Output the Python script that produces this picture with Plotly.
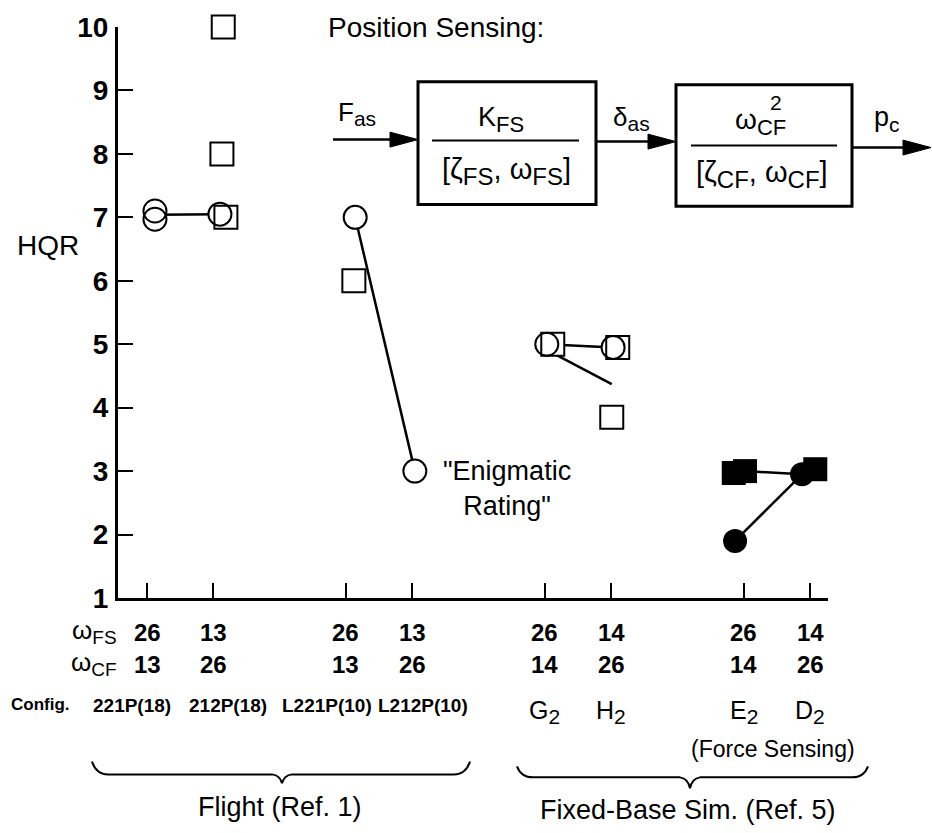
import plotly.graph_objects as go

# ---- configurations along the horizontal axis ----
config_pos = [1, 2, 4, 5, 7, 8, 10, 11]
flight_names = ["221P(18)", "212P(18)", "L221P(10)", "L212P(10)"]
sim_names = ["G", "H", "E", "D"]
omega_fs = [26, 13, 26, 13, 26, 14, 26, 14]
omega_cf = [13, 26, 13, 26, 14, 26, 14, 26]
flight_name_shift = [-0.23, 0.22, -0.28, 0.17]

# ---- HQR ratings, position sensing (open symbols) ----
pos_circle_x = [1.12, 1.12, 2.10, 4.14, 5.04, 7.03, 8.03]
pos_circle_y = [7.10, 6.97, 7.05, 7.00, 3.00, 5.00, 4.95]
pos_square_x = [2.15, 2.13, 2.19, 4.12, 7.12, 8.10, 8.01]
pos_square_y = [10.0, 8.0, 7.0, 6.0, 5.0, 4.95, 3.85]

# ---- HQR ratings, force sensing (filled symbols) ----
force_circle_x = [9.87, 10.88]
force_circle_y = [1.90, 2.95]
force_square_x = [9.85, 10.02, 11.08]
force_square_y = [2.97, 3.00, 3.03]

# ---- connecting segments (None breaks the line) ----
link_x = [1.12, 2.10, None, 4.14, 5.04, None, 7.03, 8.03, None,
          7.05, 8.01, None, 10.02, 10.88, None, 9.87, 10.88]
link_y = [7.04, 7.05, None, 7.00, 3.00, None, 5.00, 4.95, None,
          4.90, 4.37, None, 3.00, 2.95, None, 1.90, 2.95]

FONT = "Liberation Sans, Arial, Helvetica, sans-serif"
W, H = 932, 833
L, R, T, B = 118, 828, 25, 598
MSIZE = 23


def fx(px):
    return (px - L) / (R - L)


def fy(py):
    return (B - py) / (B - T)


def sub(s, size):
    return f"<sub><span style='font-size:{size}px'>{s}</span></sub>"


fig = go.Figure()

fig.add_trace(go.Scatter(x=link_x, y=link_y, mode="lines",
                         line=dict(color="black", width=2.5),
                         hoverinfo="skip", showlegend=False, cliponaxis=False))

# white discs/squares so connecting lines stop at the open symbol outlines
fig.add_trace(go.Scatter(x=pos_circle_x, y=pos_circle_y, mode="markers",
                         marker=dict(symbol="circle", size=MSIZE, color="white",
                                     line=dict(width=0)),
                         hoverinfo="skip", showlegend=False, cliponaxis=False))
fig.add_trace(go.Scatter(x=pos_square_x, y=pos_square_y, mode="markers",
                         marker=dict(symbol="square", size=MSIZE, color="white",
                                     line=dict(width=0)),
                         hoverinfo="skip", showlegend=False, cliponaxis=False))

fig.add_trace(go.Scatter(x=pos_circle_x, y=pos_circle_y, mode="markers",
                         marker=dict(symbol="circle-open", size=MSIZE, color="black",
                                     line=dict(width=2, color="black")),
                         showlegend=False, cliponaxis=False))
fig.add_trace(go.Scatter(x=pos_square_x, y=pos_square_y, mode="markers",
                         marker=dict(symbol="square-open", size=MSIZE, color="black",
                                     line=dict(width=2, color="black")),
                         showlegend=False, cliponaxis=False))
fig.add_trace(go.Scatter(x=force_square_x, y=force_square_y, mode="markers",
                         marker=dict(symbol="square", size=MSIZE + 1, color="black",
                                     line=dict(width=0)),
                         showlegend=False, cliponaxis=False))
fig.add_trace(go.Scatter(x=force_circle_x, y=force_circle_y, mode="markers",
                         marker=dict(symbol="circle", size=MSIZE + 1, color="black",
                                     line=dict(width=0)),
                         showlegend=False, cliponaxis=False))

annotations = []


def note(text, x, y, size, bold=False, xanchor="center", yanchor="middle",
         xref="paper", align="center"):
    annotations.append(dict(
        text=text, x=x, y=y, xref=xref, yref="paper", showarrow=False,
        xanchor=xanchor, yanchor=yanchor, align=align,
        font=dict(family=FONT, size=size, color="black",
                  weight="bold" if bold else "normal")))


# axis title
note("HQR", fx(48), fy(244), 28)

# block diagram of the position-sensing feel system
note("Position Sensing:", fx(326), fy(26), 28, xanchor="left")
note("F" + sub("as", 21), fx(336), fy(112), 26, xanchor="left")
note("K" + sub("FS", 22), fx(501), fy(118), 27)
note("[ζ" + sub("FS", 24) + ", ω" + sub("FS", 24) + "]", fx(506), fy(170), 29)
note("δ" + sub("as", 21), fx(631), fy(117), 26)
note("ω" + sub("CF", 22), fx(760), fy(120), 28)
note("2", fx(776), fy(101), 21)
note("[ζ" + sub("CF", 24) + ", ω" + sub("CF", 24) + "]", fx(762), fy(173), 29)
note("p" + sub("c", 21), fx(887), fy(117), 27)

# callout
note("\"Enigmatic<br>Rating\"", fx(507), fy(488), 27)

# configuration rows under the axis
note("ω" + sub("FS", 19), fx(94), fy(632), 26)
note("ω" + sub("CF", 19), fx(94), fy(664), 26)
note("Config.", fx(9), fy(705), 17, bold=True, xanchor="left")
for i, xv in enumerate(config_pos):
    note(str(omega_fs[i]), xv, fy(633), 24, bold=True, xref="x")
    note(str(omega_cf[i]), xv, fy(665), 24, bold=True, xref="x")
for i, name in enumerate(flight_names):
    note(name, config_pos[i] + flight_name_shift[i], fy(706), 19, bold=True, xref="x")
for i, name in enumerate(sim_names):
    note(name + sub("2", 21), config_pos[4 + i], fy(712), 25, xref="x")
note("(Force Sensing)", fx(773), fy(750), 23)
note("Flight (Ref. 1)", fx(280), fy(808), 27)
note("Fixed-Base Sim. (Ref. 5)", fx(688), fy(811), 27)

shapes = []


def pathstr(cmds):
    out = []
    for c in cmds:
        op, pts = c[0], c[1:]
        out.append(op + " " + " ".join(f"{fx(p[0]):.5f},{fy(p[1]):.5f}" for p in pts))
    return " ".join(out)


def line(x0, y0, x1, y1, w=2.5):
    shapes.append(dict(type="line", xref="paper", yref="paper",
                       x0=fx(x0), y0=fy(y0), x1=fx(x1), y1=fy(y1),
                       line=dict(color="black", width=w)))


def arrow(x0, x1, y):
    line(x0, y, x1 - 20, y)
    shapes.append(dict(type="path", xref="paper", yref="paper",
                       path=pathstr([("M", (x1, y)), ("L", (x1 - 28, y - 7.5)),
                                     ("L", (x1 - 28, y + 7.5))]) + " Z",
                       fillcolor="black", line=dict(color="black", width=1)))


def box(x0, y0, x1, y1):
    shapes.append(dict(type="rect", xref="paper", yref="paper",
                       x0=fx(x0), y0=fy(y0), x1=fx(x1), y1=fy(y1),
                       line=dict(color="black", width=3)))


arrow(333, 418, 138)
box(418, 80, 596, 203)
line(432, 139, 579, 139, 2)
arrow(596, 676, 140)
box(676, 83, 852, 205)
line(691, 144, 837, 144, 2)
arrow(852, 931, 146)


def brace(x0, x1, xm, ytop, ymid, ytip):
    p = pathstr([("M", (x0, ytop)), ("Q", (x0 + 4, ymid), (x0 + 16, ymid)),
                 ("L", (xm - 10, ymid)), ("Q", (xm - 2, ymid + 1), (xm, ytip)),
                 ("Q", (xm + 2, ymid + 1), (xm + 10, ymid)),
                 ("L", (x1 - 16, ymid)), ("Q", (x1 - 4, ymid), (x1, ytop))])
    shapes.append(dict(type="path", xref="paper", yref="paper", path=p,
                       line=dict(color="black", width=2)))


brace(92, 470, 282, 762, 775, 784)
brace(517, 868, 690, 767, 778, 789)

fig.update_layout(
    width=W, height=H, autosize=False,
    margin=dict(l=L, r=W - R, t=T, b=H - B, pad=0),
    paper_bgcolor="white", plot_bgcolor="white",
    font=dict(family=FONT, color="black"),
    annotations=annotations, shapes=shapes, showlegend=False,
    xaxis=dict(range=[1 - 29 / 66.3, 1 + 681 / 66.3], showgrid=False, zeroline=False,
               showline=True, linewidth=3, linecolor="black",
               ticks="inside", tickvals=config_pos, ticklen=15, tickwidth=2,
               tickcolor="black", showticklabels=False, fixedrange=True),
    yaxis=dict(range=[1, 10], showgrid=False, zeroline=False,
               showline=True, linewidth=3, linecolor="black",
               ticks="inside", tickvals=list(range(1, 11)), ticklen=15, tickwidth=2,
               tickcolor="black", ticklabelstandoff=1,
               tickfont=dict(family=FONT, size=28, weight="bold", color="black"),
               fixedrange=True),
)

fig.write_html("out.html")
